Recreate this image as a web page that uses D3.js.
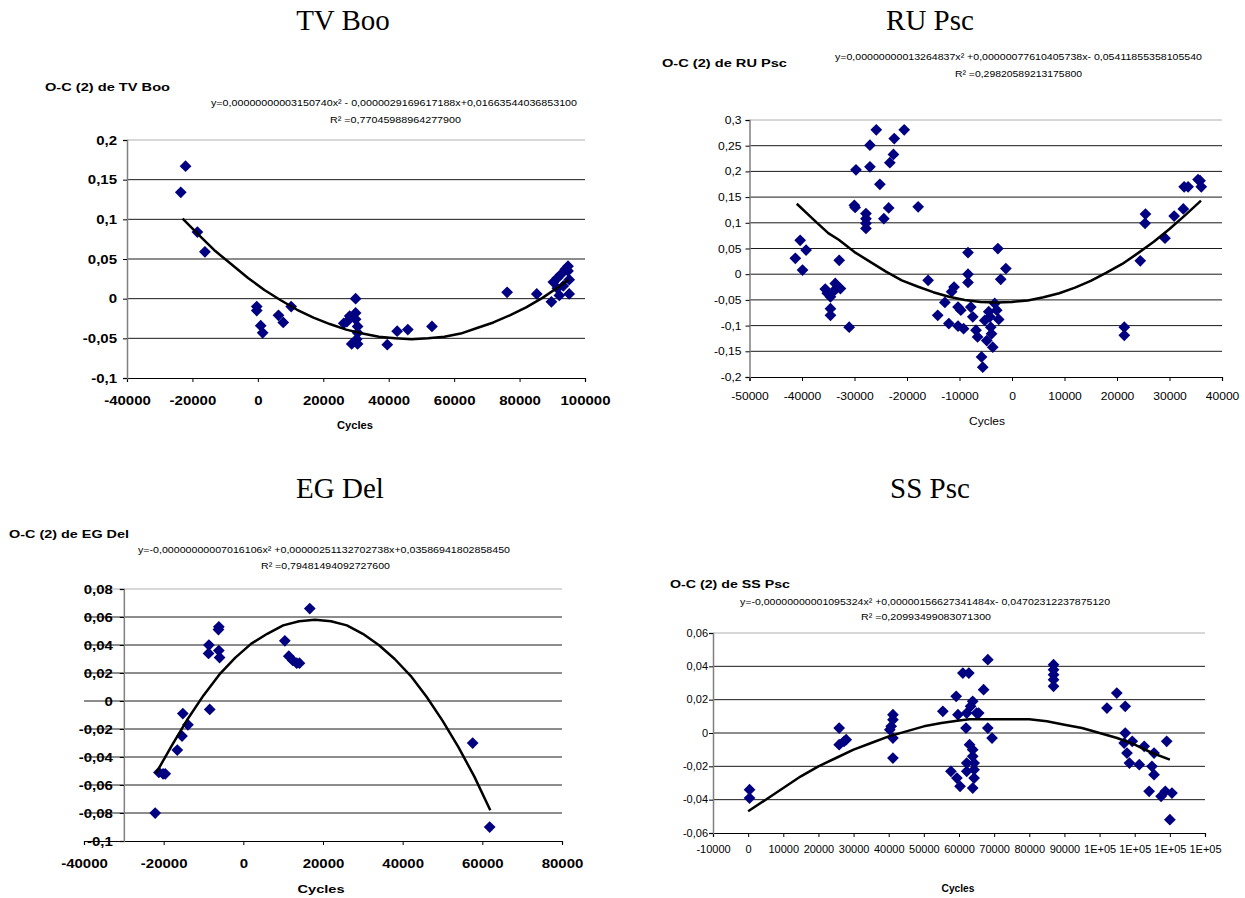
<!DOCTYPE html>
<html>
<head>
<meta charset="utf-8">
<script src="https://cdn.jsdelivr.net/npm/d3@7/dist/d3.min.js"></script>
<style>
  body { margin: 0; background: #fff; }
  svg { display: block; }
</style>
</head>
<body>
<div id="chart"></div>
<script>
// ---- TV Boo : O-C (2) against cycles, plus the fitted curve
var tvBooPoints = [
  [-23560, 0.134], [-22100, 0.167], [-18480, 0.084], [-16180, 0.059],
  [-340, -0.010], [-340, -0.015], [870, -0.034], [1470, -0.043], [6300, -0.021], [7760, -0.030], [10180, -0.010],
  [26250, -0.031], [27220, -0.029], [28070, -0.022], [29880, 0.000], [29880, -0.018], [29880, -0.026],
  [30490, -0.035], [30490, -0.043], [28680, -0.057], [30490, -0.057], [30200, -0.051],
  [39560, -0.058], [42580, -0.041], [45840, -0.039], [53220, -0.035],
  [76190, 0.008], [85250, 0.006], [89730, -0.004],
  [90330, 0.021], [91540, 0.026], [92510, 0.030], [93960, 0.037], [94810, 0.041], [95170, 0.024],
  [91540, 0.013], [92150, 0.004], [95170, 0.006], [93360, 0.016], [94810, 0.035]
];
var tvBooTrend = [
  [-23000, 0.101], [-18000, 0.080], [-13000, 0.060], [-8000, 0.043], [-3000, 0.026], [2000, 0.011],
  [7000, -0.002], [12000, -0.014], [17000, -0.024], [22000, -0.032], [27000, -0.039], [32000, -0.044],
  [37000, -0.048], [42000, -0.050], [47000, -0.051], [52000, -0.050], [57000, -0.048], [62000, -0.044],
  [67000, -0.037], [72000, -0.030], [77000, -0.021], [82000, -0.011], [87000, 0.001], [92000, 0.015], [95000, 0.024]
];
var tvBooXTicks = [-40000, -20000, 0, 20000, 40000, 60000, 80000, 100000];
var tvBooYTicks = [-0.1, -0.05, 0, 0.05, 0.1, 0.15, 0.2];
var tvBooEquation = "y=0,00000000003150740x\u00b2 - 0,0000029169617188x+0,01663544036853100";
var tvBooR = "R\u00b2 =0,77045988964277900";

// ---- RU Psc
var ruPscPoints = [
  [-41270, 0.031], [-40350, 0.066], [-39900, 0.008], [-39220, 0.047], [-32910, 0.027],
  [-35570, -0.029], [-34580, -0.044], [-34580, -0.067], [-34580, -0.080],
  [-33670, -0.018], [-33290, -0.026], [-32680, -0.028], [-34050, -0.034], [-35190, -0.037],
  [-31010, -0.103], [-30030, 0.134], [-29880, 0.130], [-29720, 0.203],
  [-27820, 0.118], [-27820, 0.108], [-27820, 0.099], [-27820, 0.089], [-27060, 0.251], [-27060, 0.209],
  [-25850, 0.281], [-25170, 0.175], [-24410, 0.108], [-23490, 0.129], [-23270, 0.217], [-22580, 0.233],
  [-22430, 0.264], [-20530, 0.281], [-17870, 0.131], [-15980, -0.012], [-14150, -0.080], [-12790, -0.055],
  [-12030, -0.096], [-11040, -0.025], [-11500, -0.034], [-10280, -0.064], [-10280, -0.101], [-9750, -0.070],
  [-9220, -0.106], [-8380, 0.042], [-8380, 0.000], [-8380, -0.016], [-7850, -0.064], [-7470, -0.083],
  [-6860, -0.109], [-6560, -0.122], [-5800, -0.161], [-5570, -0.181],
  [-5190, -0.090], [-4430, -0.073], [-4050, -0.103], [-3900, -0.116], [-3670, -0.142], [-3290, -0.057],
  [-2910, -0.070], [-2530, -0.088], [-4810, -0.129], [-4200, -0.083],
  [-2690, 0.050], [-2150, -0.010], [-1170, 0.011],
  [21390, -0.103], [21390, -0.119], [24430, 0.026], [25340, 0.099], [25420, 0.117], [29140, 0.070],
  [30890, 0.113], [32630, 0.127], [32790, 0.170], [33540, 0.170], [35440, 0.184], [35820, 0.182], [36050, 0.170]
];
var ruPscTrend = [
  [-41000, 0.137], [-38000, 0.108], [-35000, 0.080], [-33000, 0.067], [-30000, 0.043], [-27000, 0.024],
  [-24000, 0.005], [-21000, -0.012], [-18000, -0.024], [-15000, -0.035], [-12000, -0.044], [-9000, -0.050],
  [-6000, -0.054], [-3000, -0.055], [0, -0.054], [3000, -0.051], [6000, -0.045], [9000, -0.037],
  [12000, -0.026], [15000, -0.013], [18000, 0.003], [21000, 0.020], [24000, 0.041], [27000, 0.063],
  [30000, 0.088], [33000, 0.115], [36000, 0.143]
];
var ruPscXTicks = [-50000, -40000, -30000, -20000, -10000, 0, 10000, 20000, 30000, 40000];
var ruPscYTicks = [-0.2, -0.15, -0.1, -0.05, 0, 0.05, 0.1, 0.15, 0.2, 0.25, 0.3];
var ruPscEquation = "y=0,00000000013264837x\u00b2 +0,00000077610405738x- 0,05411855358105540";
var ruPscR = "R\u00b2 =0,29820589213175800";

// ---- EG Del
var egDelPoints = [
  [-22130, -0.080], [-21200, -0.051], [-20150, -0.052], [-19600, -0.052],
  [-16580, -0.035], [-15390, -0.025], [-15190, -0.009], [-13900, -0.017],
  [-8640, 0.040], [-8730, 0.034], [-8440, -0.006], [-6150, 0.053], [-6250, 0.051], [-6150, 0.036], [-5960, 0.031],
  [10420, 0.043], [11410, 0.032], [12410, 0.029], [13400, 0.027], [14090, 0.027], [16680, 0.066],
  [57570, -0.030], [61840, -0.090]
];
var egDelTrend = [
  [-22000, -0.052], [-18000, -0.032], [-14000, -0.013], [-10000, 0.004], [-6000, 0.019], [-2000, 0.031],
  [2000, 0.041], [6000, 0.048], [10000, 0.054], [14000, 0.057], [18000, 0.058], [22000, 0.057],
  [26000, 0.054], [30000, 0.048], [34000, 0.040], [38000, 0.030], [42000, 0.018], [46000, 0.003],
  [50000, -0.014], [54000, -0.033], [58000, -0.054], [62000, -0.078]
];
var egDelXTicks = [-40000, -20000, 0, 20000, 40000, 60000, 80000];
var egDelYTicks = [-0.1, -0.08, -0.06, -0.04, -0.02, 0, 0.02, 0.04, 0.06, 0.08];
var egDelEquation = "y=-0,00000000007016106x\u00b2 +0,00000251132702738x+0,03586941802858450";
var egDelR = "R\u00b2 =0,79481494092727600";

// ---- SS Psc
var ssPscPoints = [
  [400, -0.034], [400, -0.039],
  [25900, 0.003], [25900, -0.007], [27300, -0.005], [27900, -0.004],
  [40300, 0.002], [40700, 0.004], [41200, 0.011], [41200, 0.008], [41200, -0.003], [41200, -0.015],
  [55400, 0.013], [57700, -0.023], [59200, 0.022], [59700, 0.011], [59400, -0.027], [60300, -0.032],
  [61100, 0.036], [62800, 0.036], [62000, 0.003], [62200, 0.012], [62200, -0.018], [63000, -0.007],
  [63300, 0.016], [63900, 0.019], [63900, -0.010], [63900, -0.014], [64300, -0.018], [64300, -0.022],
  [64300, -0.027], [63900, -0.033], [62200, -0.023], [65000, 0.012], [65600, 0.012],
  [67000, 0.026], [68200, 0.044], [68200, 0.003], [69400, -0.003],
  [86900, 0.041], [86900, 0.038], [86900, 0.035], [86900, 0.032], [86900, 0.028],
  [102100, 0.015], [104900, 0.024], [107300, 0.016], [107300, 0.000], [107000, -0.006], [107800, -0.012],
  [108500, -0.018], [109300, -0.005], [111300, -0.019], [112700, -0.008], [114100, -0.035], [114900, -0.020],
  [115500, -0.025], [115500, -0.012], [117500, -0.038], [118700, -0.035], [119100, -0.005],
  [120000, -0.052], [120600, -0.036]
];
var ssPscTrend = [
  [0, -0.047], [5000, -0.040], [10000, -0.033], [15000, -0.026], [20000, -0.020], [25000, -0.015],
  [30000, -0.010], [35000, -0.006], [40000, -0.002], [45000, 0.001], [50000, 0.004], [55000, 0.006],
  [60000, 0.0075], [63000, 0.0082], [70000, 0.0082], [80000, 0.0082], [85000, 0.007], [90000, 0.005],
  [95000, 0.003], [100000, 0.000], [105000, -0.003], [110000, -0.007], [115000, -0.012], [120000, -0.016]
];
var ssPscXTicks = [-10000, 0, 10000, 20000, 30000, 40000, 50000, 60000, 70000, 80000, 90000, 100000, 110000, 120000, 130000];
var ssPscXLabels = ["-10000", "0", "10000", "20000", "30000", "40000", "50000", "60000", "70000", "80000", "90000", "1E+05", "1E+05", "1E+05", "1E+05"];
var ssPscYTicks = [-0.06, -0.04, -0.02, 0, 0.02, 0.04, 0.06];
var ssPscEquation = "y=-0,00000000001095324x\u00b2 +0,00000156627341484x- 0,04702312237875120";
var ssPscR = "R\u00b2 =0,20993499083071300";

// layout of the four panels (pixel boxes measured on the reference)
var panels = [
  { title: "TV Boo", yTitle: "O-C (2) de TV Boo", points: tvBooPoints, trend: tvBooTrend,
    xTicks: tvBooXTicks, yTicks: tvBooYTicks, eq: tvBooEquation, r: tvBooR,
    xDomain: [-40000, 100000], yDomain: [-0.1, 0.2], yAxisAt: -40000,
    left: 127, right: 585, top: 140, bottom: 378,
    head: [343, 30], yt: [45, 91, 125], eqBox: [211, 577, 106], rBox: [330, 461, 123],
    xt: [355, 429, 36], bold: true, fs: 12.5, stretch: 1.2, yGap: 10, xBase: 27 },
  { title: "RU Psc", yTitle: "O-C (2) de RU Psc", points: ruPscPoints, trend: ruPscTrend,
    xTicks: ruPscXTicks, yTicks: ruPscYTicks, eq: ruPscEquation, r: ruPscR,
    xDomain: [-50000, 40000], yDomain: [-0.2, 0.3], yAxisAt: -50000,
    left: 749.5, right: 1222, top: 120, bottom: 377,
    head: [930, 30], yt: [662, 67, 125], eqBox: [835, 1202, 60], rBox: [955, 1082, 77],
    xt: [987, 425, 36], bold: false, fs: 11, stretch: 1.1, yGap: 8, xBase: 23 },
  { title: "EG Del", yTitle: "O-C (2) de EG Del", points: egDelPoints, trend: egDelTrend,
    xTicks: egDelXTicks, yTicks: egDelYTicks, eq: egDelEquation, r: egDelR,
    xDomain: [-40000, 80000], yDomain: [-0.1, 0.08], yAxisAt: -30000,
    left: 84, right: 562, top: 589, bottom: 841,
    head: [340, 498], yt: [9, 538, 120], eqBox: [138, 510, 553], rBox: [261, 390, 569],
    xt: [321, 893, 47], bold: true, fs: 12.5, stretch: 1.2, yGap: 11, xBase: 27 },
  { title: "SS Psc", yTitle: "O-C (2) de SS Psc", points: ssPscPoints, trend: ssPscTrend,
    xTicks: ssPscXTicks, xLabels: ssPscXLabels, yTicks: ssPscYTicks, eq: ssPscEquation, r: ssPscR,
    xDomain: [-10000, 130000], yDomain: [-0.06, 0.06], yAxisAt: -10000,
    left: 713, right: 1205, top: 633, bottom: 833,
    head: [930, 498], yt: [670, 588, 120], eqBox: [740, 1110, 605], rBox: [861, 991, 620],
    xt: [958, 892, 33], bold: false, fs: 10, stretch: 1.1, yGap: 5, xBase: 20 }
];

var svg = d3.select("#chart").append("svg")
  .attr("width", 1245)
  .attr("height", 898);

var sans = "'Liberation Sans', Arial, sans-serif";

function comma(d) {
  return String(+d.toFixed(4)).replace(".", ",");
}

// squeeze/stretch a text to a given pixel width
function fitWidth(sel, w) {
  sel.attr("textLength", w).attr("lengthAdjust", "spacingAndGlyphs");
}

function stretchText(sel, k) {
  sel.each(function() {
    var len = this.getComputedTextLength();
    d3.select(this).attr("textLength", len * k).attr("lengthAdjust", "spacingAndGlyphs");
  });
}

panels.forEach(function(p) {
  var x = d3.scaleLinear().domain(p.xDomain).range([p.left, p.right]);
  var y = d3.scaleLinear().domain(p.yDomain).range([p.bottom, p.top]);
  var g = svg.append("g");

  // heading above the chart
  g.append("text")
    .attr("x", p.head[0])
    .attr("y", p.head[1])
    .attr("text-anchor", "middle")
    .style("font-family", "'Liberation Serif', 'Times New Roman', serif")
    .style("font-size", "29px")
    .text(p.title);

  // y title, equation and R line
  g.append("text")
    .attr("x", p.yt[0]).attr("y", p.yt[1])
    .style("font-family", sans).style("font-size", "11px").style("font-weight", "bold")
    .text(p.yTitle)
    .call(fitWidth, p.yt[2]);

  g.append("text")
    .attr("x", p.eqBox[0]).attr("y", p.eqBox[2])
    .style("font-family", sans).style("font-size", "9px")
    .text(p.eq)
    .call(fitWidth, p.eqBox[1] - p.eqBox[0]);

  g.append("text")
    .attr("x", p.rBox[0]).attr("y", p.rBox[2])
    .style("font-family", sans).style("font-size", "9px")
    .text(p.r)
    .call(fitWidth, p.rBox[1] - p.rBox[0]);

  // horizontal gridlines
  g.selectAll(".grid")
    .data(p.yTicks.slice(1))
    .enter().append("line")
    .attr("x1", p.left).attr("x2", p.right)
    .attr("y1", function(d) { return y(d); })
    .attr("y2", function(d) { return y(d); })
    .attr("stroke", function(d, i) { return i === p.yTicks.length - 2 ? "#b0b0b0" : "#1a1a1a"; })
    .attr("stroke-width", 1);

  // x axis
  var xAxis = g.append("g")
    .attr("transform", "translate(0," + p.bottom + ")")
    .call(d3.axisBottom(x)
      .tickValues(p.xTicks)
      .tickSize(4)
      .tickFormat(function(d, i) { return p.xLabels ? p.xLabels[i] : String(d); }));
  xAxis.select(".domain").attr("stroke", "#000").attr("stroke-width", 1.2);
  xAxis.selectAll(".tick line").attr("stroke", "#000");
  xAxis.selectAll("text")
    .attr("y", p.xBase).attr("dy", null)
    .style("font-family", sans)
    .style("font-size", p.fs + "px")
    .style("font-weight", p.bold ? "bold" : "normal")
    .attr("fill", "#000")
    .call(stretchText, p.stretch);

  // y axis
  var yAxis = g.append("g")
    .attr("transform", "translate(" + x(p.yAxisAt) + ",0)")
    .call(d3.axisLeft(y)
      .tickValues(p.yTicks)
      .tickSize(4)
      .tickPadding(p.yGap - 4)
      .tickFormat(comma));
  yAxis.select(".domain").attr("stroke", "#808080").attr("stroke-width", 1.5);
  yAxis.selectAll(".tick line").attr("stroke", "#000");
  yAxis.selectAll("text")
    .style("font-family", sans)
    .style("font-size", p.fs + "px")
    .style("font-weight", p.bold ? "bold" : "normal")
    .attr("fill", "#000")
    .call(stretchText, p.stretch);

  // x title
  g.append("text")
    .attr("x", p.xt[0]).attr("y", p.xt[1])
    .attr("text-anchor", "middle")
    .style("font-family", sans)
    .style("font-size", p.bold ? "10px" : "11px")
    .style("font-weight", p.bold || p.title === "SS Psc" ? "bold" : "normal")
    .text("Cycles")
    .call(fitWidth, p.xt[2]);

  // observed O-C as navy diamonds
  g.selectAll(".pt")
    .data(p.points)
    .enter().append("path")
    .attr("d", d3.symbol().type(d3.symbolDiamond2).size(88))
    .attr("transform", function(d) { return "translate(" + x(d[0]) + "," + y(d[1]) + ")"; })
    .attr("fill", "#000080");

  // fitted polynomial
  g.append("path")
    .datum(p.trend)
    .attr("fill", "none")
    .attr("stroke", "#000")
    .attr("stroke-width", 2.5)
    .attr("stroke-linejoin", "round")
    .attr("d", d3.line()
      .x(function(d) { return x(d[0]); })
      .y(function(d) { return y(d[1]); }));
});
</script>
</body>
</html>
